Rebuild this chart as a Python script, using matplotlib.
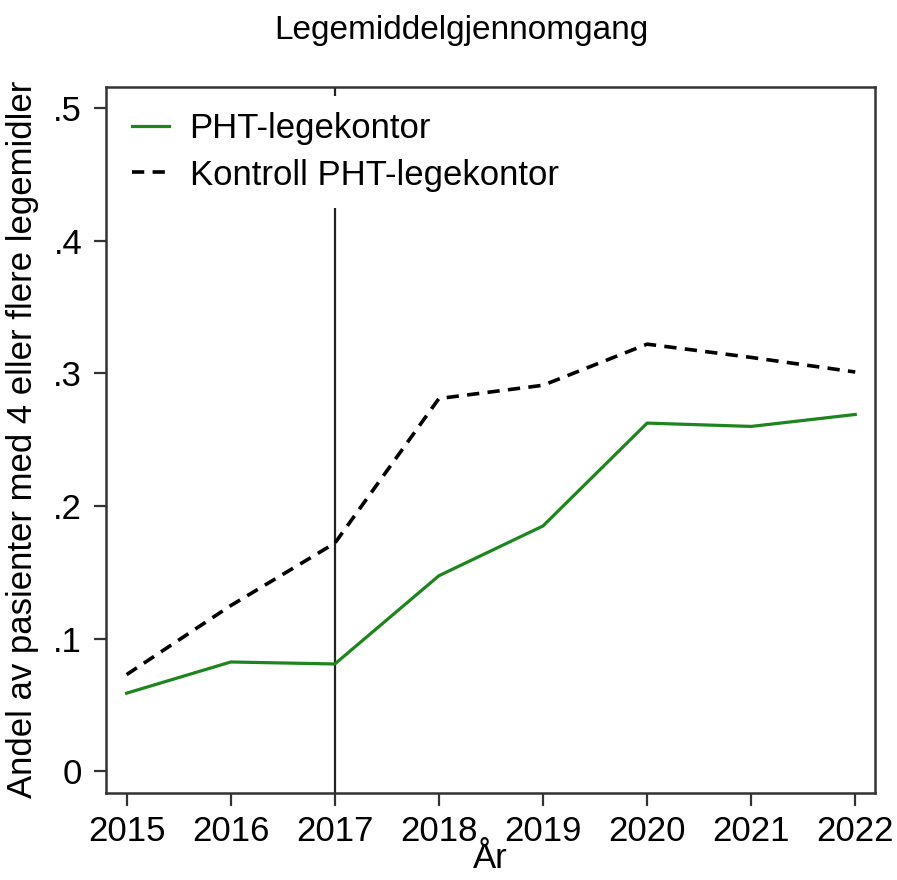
import matplotlib
matplotlib.use("Agg")
import matplotlib.pyplot as plt
from matplotlib.ticker import FuncFormatter

plt.rcParams['font.family'] = ['Liberation Sans', 'DejaVu Sans']

years = [2015, 2016, 2017, 2018, 2019, 2020, 2021, 2022]
pht = [0.059, 0.0825, 0.081, 0.1475, 0.185, 0.2625, 0.260, 0.269]
kontroll = [0.073, 0.125, 0.172, 0.281, 0.291, 0.322, 0.312, 0.301]
intervention_year = 2017
yticks = [0, 0.1, 0.2, 0.3, 0.4, 0.5]

fig = plt.figure(figsize=(8.97, 8.80), dpi=100)
ax = fig.add_axes([0.118, 0.0992, 0.8575, 0.8023])

spine_col = '#333333'
fs = 25
ax.axvline(intervention_year, color='#222222', lw=1.6, zorder=1)
ax.plot(years, pht, color='#1e841e', lw=2.3, label='PHT-legekontor', zorder=3)
ax.plot(years, kontroll, color='black', lw=2.6, ls=(0, (3.4, 2.3)),
        label='Kontroll PHT-legekontor', zorder=3)

ax.set_xlim(2014.8, 2022.19)
ax.set_ylim(-0.016, 0.516)
ax.set_xticks(years)
ax.set_yticks(yticks)
ax.yaxis.set_major_formatter(FuncFormatter(lambda v, p: '0' if v == 0 else f'{v:.1f}'.lstrip('0')))

for s in ax.spines.values():
    s.set_color(spine_col)
    s.set_linewidth(1.8)
ax.tick_params(axis='both', direction='out', length=9, width=1.6, color=spine_col,
               labelsize=fs)
ax.tick_params(axis='x', pad=7)
ax.tick_params(axis='y', pad=8)

ax.set_xlabel('År', fontsize=fs, labelpad=-4)
ax.set_ylabel('Andel av pasienter med 4 eller flere legemidler', fontsize=fs, labelpad=10)
fig.text(0.514, 0.965, 'Legemiddelgjennomgang', ha='center', va='center', fontsize=24)

leg = ax.legend(loc='upper left', bbox_to_anchor=(0.0, 1.0), fontsize=fs, frameon=True,
                fancybox=False, handlelength=1.07, handletextpad=0.6, labelspacing=0.38,
                borderpad=0.48, borderaxespad=0.26)
leg.get_frame().set_facecolor('white')
leg.get_frame().set_edgecolor('none')
leg.get_frame().set_alpha(1)
leg.set_zorder(5)

fig.savefig('out.png', dpi=100)
